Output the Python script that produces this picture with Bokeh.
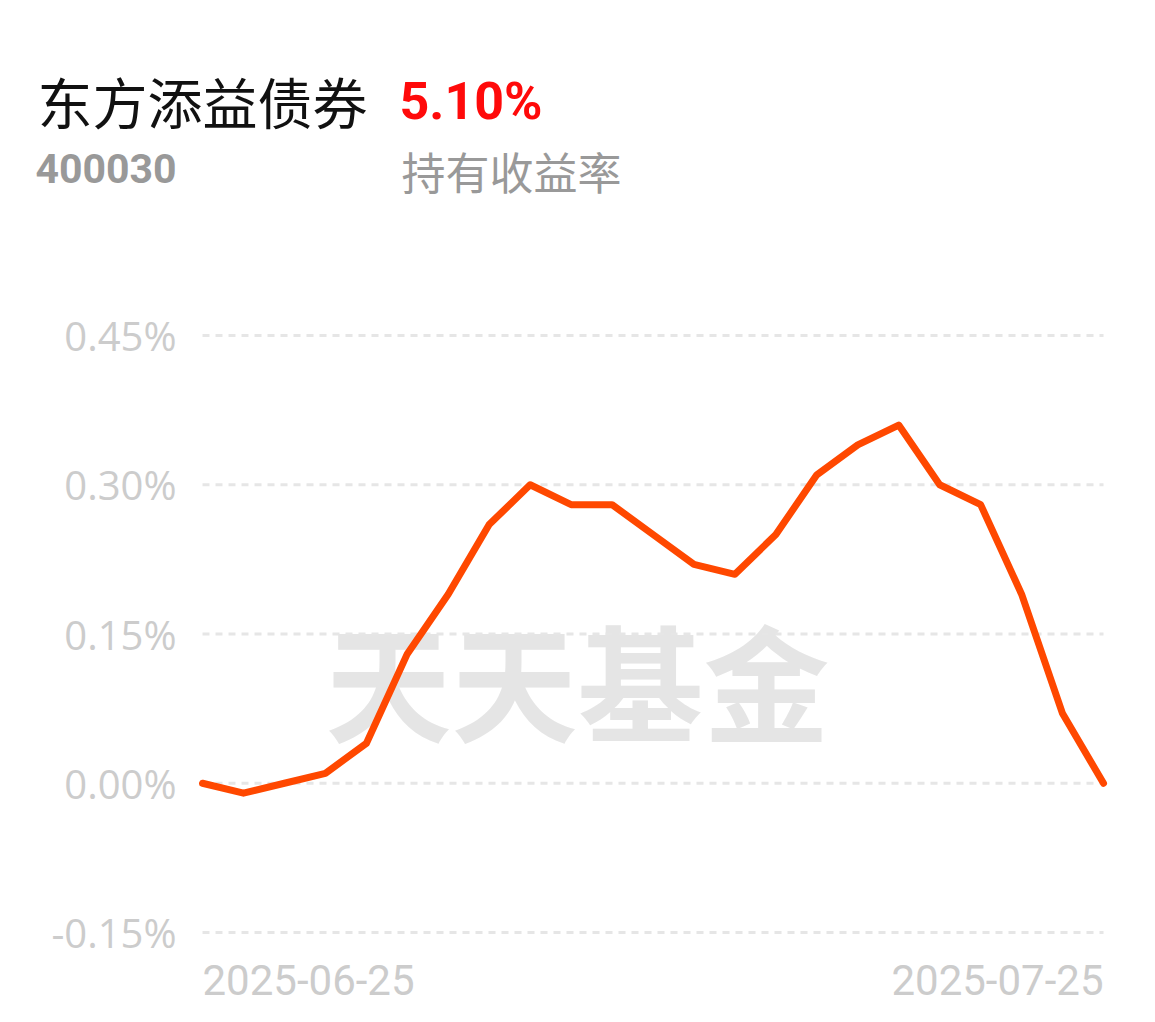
from bokeh.plotting import figure
from bokeh.models import Range1d, Label
from bokeh.embed import file_html
from bokeh.resources import INLINE

# ---- data ----
dates = ["2025-06-25", "2025-06-26", "2025-06-27", "2025-06-30",
         "2025-07-01", "2025-07-02", "2025-07-03", "2025-07-04",
         "2025-07-07", "2025-07-08", "2025-07-09", "2025-07-10", "2025-07-11",
         "2025-07-14", "2025-07-15", "2025-07-16", "2025-07-17", "2025-07-18",
         "2025-07-21", "2025-07-22", "2025-07-23", "2025-07-24", "2025-07-25"]
returns = [0.00, -0.01, 0.00, 0.01, 0.04, 0.13, 0.19, 0.26, 0.30, 0.28, 0.28,
           0.25, 0.22, 0.21, 0.25, 0.31, 0.34, 0.36, 0.30, 0.28, 0.19, 0.07, 0.00]
y_ticks = [-0.15, 0.00, 0.15, 0.30, 0.45]
fund_name = "东方添益债券"
fund_code = "400030"
hold_return = "5.10%"
hold_label = "持有收益率"
watermark = "天天基金"

idx = list(range(len(dates)))

# ---- layout (page pixels) ----
W, H = 1147, 1014
PX_L, PX_R = 202, 1103           # plot area left / right
PY_TOP_TICK, PY_BOT_TICK = 335, 932   # pixel rows of top and bottom tick

n = len(dates) - 1
xpp = n / (PX_R - PX_L)                                   # data per pixel (x)
ypp = (y_ticks[-1] - y_ticks[0]) / (PY_BOT_TICK - PY_TOP_TICK)  # data per pixel (y)
x_start = idx[0] - PX_L * xpp
x_end = idx[-1] + (W - PX_R) * xpp
y_end = y_ticks[-1] + PY_TOP_TICK * ypp
y_start = y_ticks[-1] - (H - PY_TOP_TICK) * ypp

p = figure(width=W, height=H, output_backend="svg", toolbar_location=None,
           x_range=Range1d(x_start, x_end), y_range=Range1d(y_start, y_end),
           min_border=0, min_border_left=0, min_border_right=0,
           min_border_top=0, min_border_bottom=0)
p.outline_line_color = None
p.background_fill_color = "white"
p.border_fill_color = "white"
p.axis.visible = False
p.grid.visible = False

# the frame fills the canvas: screen units = page pixels, y measured from bottom
def sx(x_page):
    return x_page

def sy(y_page):
    return H - y_page

# dashed horizontal grid lines at the ticks
p.segment(x0=[idx[0]] * len(y_ticks), x1=[idx[-1]] * len(y_ticks),
          y0=y_ticks, y1=y_ticks, line_color="#e6e6e6", line_width=3,
          line_dash="7 6")

# tick labels
for t in y_ticks:
    p.add_layout(Label(x=sx(176), y=t, x_units="screen", y_units="data",
                       y_offset=0, text=f"{t:.2f}%", text_font="Open Sans",
                       text_font_size="40px", text_color="#cccccc",
                       text_align="right", text_baseline="middle"))

# watermark
p.add_layout(Label(x=sx(577), y=sy(677), x_units="screen", y_units="screen",
                   text=watermark, text_font="Noto Sans CJK SC",
                   text_font_style="bold", text_font_size="126px",
                   text_color="#e5e5e5", text_align="center",
                   text_baseline="middle", level="underlay"))

p.line(idx, returns, line_color="#ff4800", line_width=7, line_join="round",
       line_cap="round")

labels = [
    dict(x=sx(37), y=sy(99), text=fund_name, text_font="Noto Sans CJK SC",
         text_font_size="55px", text_color="#111111"),
    dict(x=sx(399), y=sy(101), text=hold_return, text_font="Roboto",
         text_font_style="bold", text_font_size="52px", text_color="#ff0a0a"),
    dict(x=sx(35), y=sy(168), text=fund_code, text_font="Roboto",
         text_font_style="bold", text_font_size="41px", text_color="#999999"),
    dict(x=sx(401), y=sy(170), text=hold_label, text_font="Noto Sans CJK SC",
         text_font_size="44px", text_color="#999999"),
]
for d in labels:
    p.add_layout(Label(x_units="screen", y_units="screen", text_align="left",
                       text_baseline="middle", **d))

p.add_layout(Label(x=idx[0], y=sy(979), x_units="data", y_units="screen",
                   text=dates[0], text_font="Roboto", text_font_size="42px",
                   text_color="#cccccc", text_align="left", text_baseline="middle"))
p.add_layout(Label(x=idx[-1], y=sy(979), x_units="data", y_units="screen",
                   text=dates[-1], text_font="Roboto", text_font_size="42px",
                   text_color="#cccccc", text_align="right", text_baseline="middle"))

open("out.html", "w").write(file_html(p, INLINE))
